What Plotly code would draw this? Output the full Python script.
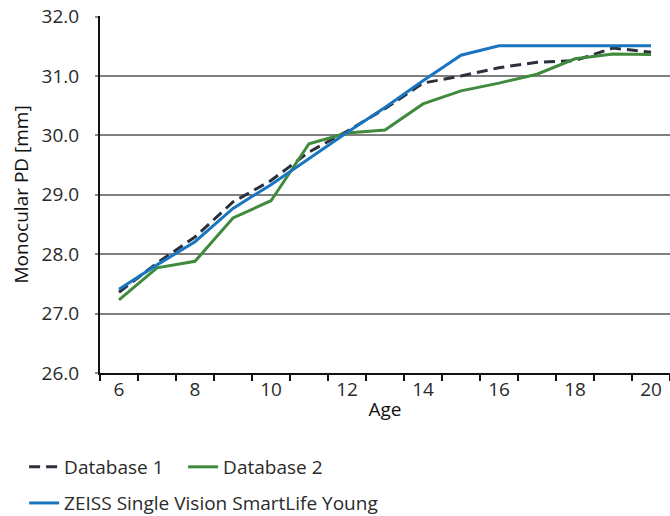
import plotly.graph_objects as go

ages = list(range(6, 21))
database1 = [27.36, 27.85, 28.29, 28.88, 29.24, 29.72, 30.07, 30.45, 30.88, 31.00, 31.14, 31.23, 31.26, 31.47, 31.40]
database2 = [27.23, 27.77, 27.88, 28.61, 28.90, 29.86, 30.04, 30.09, 30.53, 30.75, 30.88, 31.03, 31.29, 31.37, 31.36]
zeiss = [27.41, 27.82, 28.21, 28.77, 29.17, 29.61, 30.05, 30.47, 30.92, 31.35, 31.51, 31.51, 31.51, 31.51, 31.51]

x_labels = [6, 8, 10, 12, 14, 16, 18, 20]
y_ticks = [26, 27, 28, 29, 30, 31, 32]

FONT = "Open Sans"
TXT = "#2a2a2a"

fig = go.Figure()
fig.add_trace(go.Scatter(x=ages, y=database1, mode="lines", name="Database 1",
                         line=dict(color="#2b303d", width=3, dash="11px,6px"), legend="legend"))
fig.add_trace(go.Scatter(x=ages, y=database2, mode="lines", name="Database 2",
                         line=dict(color="#3f8a3d", width=3), legend="legend"))
fig.add_trace(go.Scatter(x=ages, y=zeiss, mode="lines", name="ZEISS Single Vision SmartLife Young",
                         line=dict(color="#1a75c0", width=3), legend="legend2"))

fig.update_layout(
    width=670, height=516,
    margin=dict(l=100, r=0, t=16, b=143),
    paper_bgcolor="white", plot_bgcolor="white",
    font=dict(family=FONT, size=19, color=TXT),
    legend=dict(orientation="h", xref="container", yref="container", x=0.036, y=0.095,
                xanchor="left", yanchor="middle", font=dict(size=19, color=TXT),
                bgcolor="rgba(0,0,0,0)", entrywidth=114),
    legend2=dict(orientation="h", xref="container", yref="container", x=0.036, y=0.025,
                 xanchor="left", yanchor="middle", font=dict(size=19, color=TXT),
                 bgcolor="rgba(0,0,0,0)"),
    xaxis=dict(
        range=[5.5, 20.5], tickvals=x_labels, ticktext=[str(v) for v in x_labels],
        ticks="", showgrid=False, zeroline=False,
        showline=True, linecolor="#111", linewidth=2,
        ticklabelstandoff=-2,
        minor=dict(tickvals=[a - 0.5 for a in ages] + [20.5], ticks="outside",
                   ticklen=6, tickcolor="#111", tickwidth=1.5, showgrid=False),
        title=dict(text="Age", font=dict(size=19, color="#111"), standoff=2),
        tickfont=dict(size=19, color=TXT),
    ),
    yaxis=dict(
        range=[26, 32.01], tickvals=y_ticks, ticktext=[f"{v:.1f}" for v in y_ticks],
        ticks="outside", ticklen=3, tickcolor="#888", tickwidth=1.5,
        showgrid=True, gridcolor="#808080", gridwidth=1.5, zeroline=False,
        showline=True, linecolor="#111", linewidth=2,
        ticklabelstandoff=12, ticklabeloverflow="allow",
        tickfont=dict(size=19, color=TXT),
    ),
    annotations=[dict(text="Monocular PD [mm]", xref="paper", yref="paper",
                      x=(20 - 100) / 570, y=0.5, xanchor="center", yanchor="middle",
                      textangle=-90, showarrow=False,
                      font=dict(size=19, color="#111"))],
)

fig.write_html("out.html", config={"displayModeBar": False},
               post_script="document.body.style.margin='0';")
